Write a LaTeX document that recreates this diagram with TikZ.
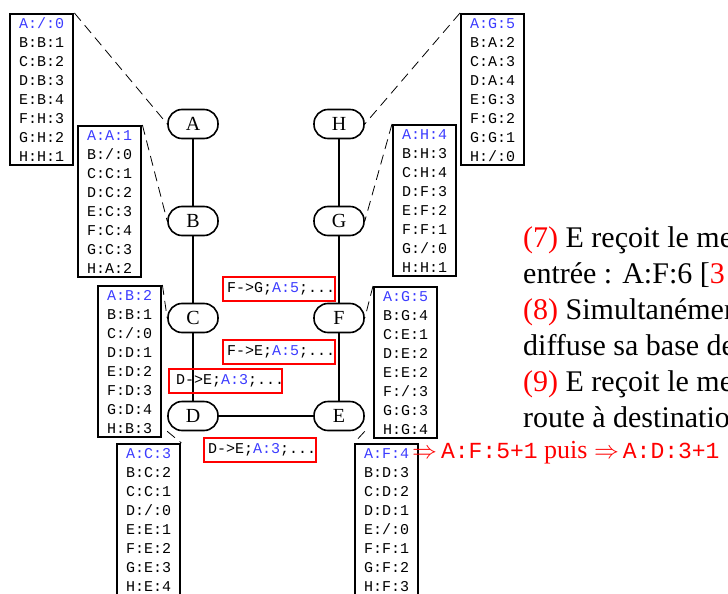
\documentclass[tikz,border=0pt]{standalone}
\usepackage{fontspec}
\setmainfont{Liberation Serif}
\setmonofont{Liberation Mono}
\definecolor{tblue}{RGB}{60,60,255}
% one routing table: first row (route to A) in blue
\newcommand{\rtrows}[8]{\textcolor{tblue}{#1}\\#2\\#3\\#4\\#5\\#6\\#7\\#8}
% one update message
\newcommand{\mesg}[3]{\mbox{#1->#2;\textcolor{tblue}{A:#3};...}}

\begin{document}
\begin{tikzpicture}[x=1pt,y=-1pt,
    router/.style={draw, fill=white, line width=1.6pt, rounded corners=14pt, minimum width=50pt, minimum height=29pt, inner sep=0pt, font=\fontsize{20}{24}\selectfont},
    rtable/.style={draw, line width=2.4pt, anchor=north west, minimum width=63pt, minimum height=151pt, inner sep=0pt, align=left, font=\fontsize{15}{19}\selectfont\ttfamily},
    msgbox/.style={draw=red, line width=2pt, anchor=north west, minimum height=24pt, text width=104pt, inner xsep=4pt, inner ysep=0pt, align=left, font=\fontsize{15}{18}\selectfont\ttfamily},
    wire/.style={line width=2pt},
    dashlink/.style={line width=0.8pt, dash pattern=on 10pt off 6pt}]
\useasboundingbox (0,0) rectangle (728,594);
\clip (0,0) rectangle (728,594);

% routers
\node[router] (A) at (193,124) {A};
\node[router] (B) at (193,221) {B};
\node[router] (C) at (193,318) {C};
\node[router] (D) at (193,416) {D};
\node[router] (E) at (339,416) {E};
\node[router] (F) at (339,318) {F};
\node[router] (G) at (339,221) {G};
\node[router] (H) at (339,124) {H};
\draw[wire] (A) -- (B) -- (C) -- (D) -- (E) -- (F) -- (G) -- (H);

% tables
\node[rtable] (tA) at (9,13) {\rtrows{A:/:0}{B:B:1}{C:B:2}{D:B:3}{E:B:4}{F:H:3}{G:H:2}{H:H:1}};
\node[rtable] (tB) at (77,125) {\rtrows{A:A:1}{B:/:0}{C:C:1}{D:C:2}{E:C:3}{F:C:4}{G:C:3}{H:A:2}};
\node[rtable] (tC) at (97,285) {\rtrows{A:B:2}{B:B:1}{C:/:0}{D:D:1}{E:D:2}{F:D:3}{G:D:4}{H:B:3}};
\node[rtable, inner ysep=4pt] (tD) at (116,443) {\rtrows{A:C:3}{B:C:2}{C:C:1}{D:/:0}{E:E:1}{F:E:2}{G:E:3}{H:E:4}\\ \mbox{}};
\node[rtable] (tH) at (460,13) {\rtrows{A:G:5}{B:A:2}{C:A:3}{D:A:4}{E:G:3}{F:G:2}{G:G:1}{H:/:0}};
\node[rtable] (tG) at (392,124) {\rtrows{A:H:4}{B:H:3}{C:H:4}{D:F:3}{E:F:2}{F:F:1}{G:/:0}{H:H:1}};
\node[rtable] (tF) at (373,286) {\rtrows{A:G:5}{B:G:4}{C:E:1}{D:E:2}{E:E:2}{F:/:3}{G:G:3}{H:G:4}};
\node[rtable, inner ysep=4pt] (tE) at (354,443) {\rtrows{A:F:4}{B:D:3}{C:D:2}{D:D:1}{E:/:0}{F:F:1}{G:F:2}{H:F:3}\\ \mbox{}};

\draw[dashlink] (tA.north east) -- (A.west);
\draw[dashlink] (tB.north east) -- (B.west);
\draw[dashlink] (tC.north east) -- (C.west);
\draw[dashlink] (D.south west) -- (tD.north east);
\draw[dashlink] (tH.north west) -- (H.east);
\draw[dashlink] (tG.north west) -- (G.east);
\draw[dashlink] (tF.north west) -- (F.east);
\draw[dashlink] (E.south east) -- (tE.north west);

% messages
\node[msgbox] (m1) at (222,276) {\mesg{F}{G}{5}};
\node[msgbox] (m2) at (222,339) {\mesg{F}{E}{5}};
\node[msgbox, text width=99pt, inner xsep=7pt] (m3) at (168,368) {\mesg{D}{E}{3}};
\node[msgbox] (m4) at (203,437) {\mesg{D}{E}{3}};

\node[anchor=base west, inner sep=0pt, text=red, font=\fontsize{26}{30}\selectfont] (res) at (412,458.5)
    {$\Rightarrow$\hspace{4pt}\texttt{\fontsize{23}{26}\selectfont A:F:5+1} puis $\Rightarrow$\hspace{4pt}\texttt{\fontsize{23}{26}\selectfont A:D:3+1}};

% explanation
\node[anchor=north west, inner sep=0pt, align=left, font=\fontsize{30}{36}\selectfont] (txt) at (523,226.5)
    {\textcolor{red}{(7)} E reçoit le message\\
     entrée : A:F:6 [\textcolor{red}{3}\\
     \textcolor{red}{(8)} Simultanément\\
     diffuse sa base de\\
     \textcolor{red}{(9)} E reçoit le message\\
     route à destination};
\end{tikzpicture}
\end{document}
